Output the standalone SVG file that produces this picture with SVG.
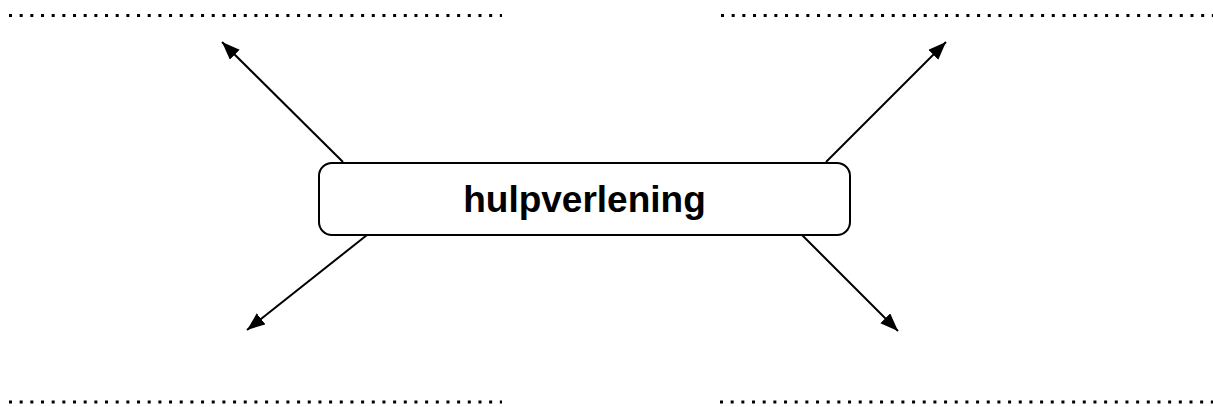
<svg xmlns="http://www.w3.org/2000/svg" width="1213" height="407" viewBox="0 0 1213 407">
<style>
.dots{stroke:#000;stroke-width:3;stroke-dasharray:3 7.67;fill:none}
.box{fill:#fff;stroke:#000;stroke-width:2}
.lbl{font-family:"Liberation Sans",Arial,sans-serif;font-weight:bold;font-size:37px;text-anchor:middle;fill:#000}
.conn{stroke:#000;stroke-width:2;fill:none;marker-end:url(#ah)}
</style>
<defs>
<marker id="ah" markerUnits="userSpaceOnUse" markerWidth="20" markerHeight="16" refX="18" refY="7" orient="auto">
<polygon points="0,0 18,7 0,14" fill="#000"/>
</marker>
</defs>
<g id="blanks">
<line class="dots" x1="9" y1="15.5" x2="502" y2="15.5"/>
<line class="dots" x1="721" y1="15.5" x2="1213" y2="15.5"/>
<line class="dots" x1="9" y1="402" x2="502" y2="402"/>
<line class="dots" x1="720" y1="402" x2="1213" y2="402"/>
</g>
<g id="connectors">
<line class="conn" x1="343" y1="162" x2="222" y2="42"/>
<line class="conn" x1="826" y1="162" x2="946" y2="42"/>
<line class="conn" x1="367" y1="235" x2="247" y2="330"/>
<line class="conn" x1="802" y1="235" x2="898" y2="331"/>
</g>
<g id="node-hulpverlening">
<rect class="box" x="319" y="163" width="531" height="72" rx="13"/>
<text class="lbl" x="584.5" y="212">hulpverlening</text>
</g>
</svg>
